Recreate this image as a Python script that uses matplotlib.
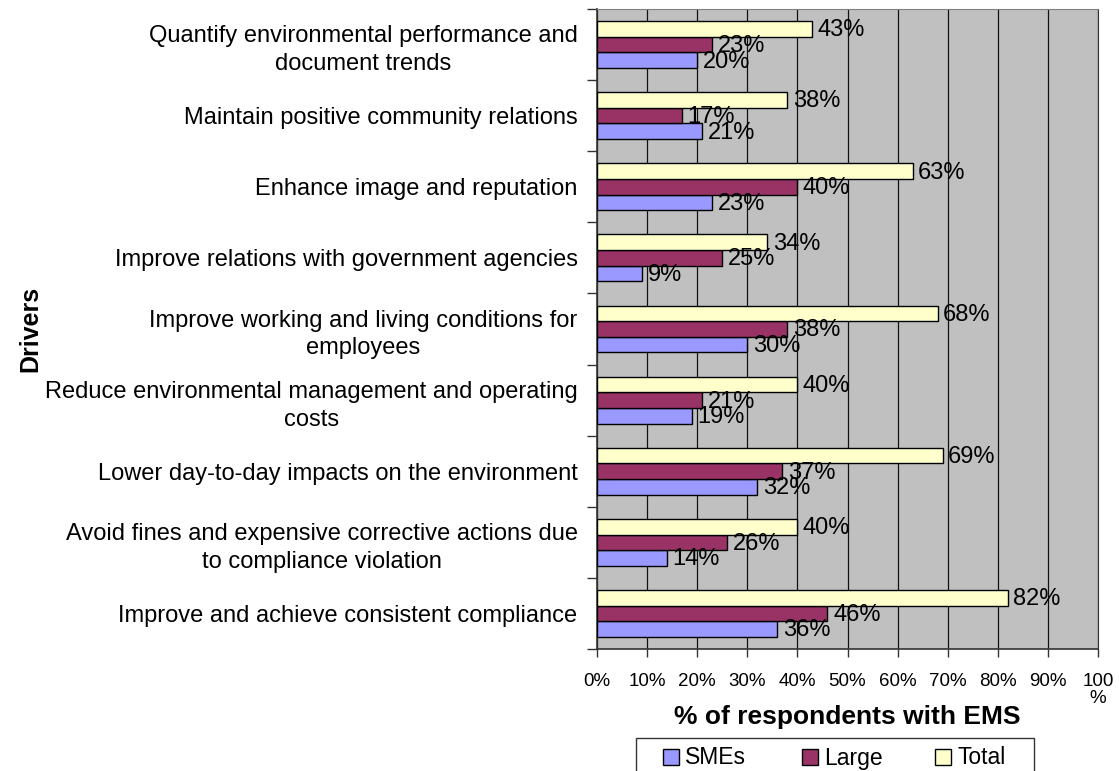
import matplotlib
matplotlib.use("Agg")
import matplotlib.pyplot as plt
import numpy as np
from matplotlib.patches import Rectangle

plt.rcParams["font.family"] = ["Liberation Sans", "DejaVu Sans"]

# drivers, listed top to bottom
drivers = [
    "Quantify environmental performance and\ndocument trends",
    "Maintain positive community relations",
    "Enhance image and reputation",
    "Improve relations with government agencies",
    "Improve working and living conditions for\nemployees",
    "Reduce environmental management and operating\ncosts",
    "Lower day-to-day impacts on the environment",
    "Avoid fines and expensive corrective actions due\nto compliance violation",
    "Improve and achieve consistent compliance",
]
smes = [20, 21, 23, 9, 30, 19, 32, 14, 36]
large = [23, 17, 40, 25, 38, 21, 37, 26, 46]
total = [43, 38, 63, 34, 68, 40, 69, 40, 82]

series_names = ["SMEs", "Large", "Total"]
series_colors = ["#9999FF", "#993366", "#FFFFCC"]
xticks = [0, 10, 20, 30, 40, 50, 60, 70, 80, 90, 100]
xtick_labels = ["0%", "10%", "20%", "30%", "40%", "50%", "60%", "70%", "80%", "90%", "100\n%"]

W, H = 1119, 771
fig = plt.figure(figsize=(W / 100, H / 100), dpi=100)
ax = fig.add_axes([597 / W, 1 - 649 / H, 501 / W, 640 / H])
ax.set_facecolor("#C0C0C0")

y = np.arange(len(drivers))
h = 0.22
# Total sits on top, SMEs at the bottom of each group (axis is inverted)
offsets = {"Total": -h, "Large": 0.0, "SMEs": h}
values = {"SMEs": smes, "Large": large, "Total": total}

for name, color in zip(series_names, series_colors):
    bars = ax.barh(y + offsets[name], values[name], height=h, color=color,
                   edgecolor="black", linewidth=1.0, zorder=3)
    for bar, v in zip(bars, values[name]):
        ax.annotate(f"{v}%", (bar.get_width(), bar.get_y() + bar.get_height() / 2),
                    xytext=(4, -1), textcoords="offset points",
                    ha="left", va="center", fontsize=17, zorder=4)

ax.set_xlim(0, 100)
ax.set_ylim(len(drivers) - 0.5, -0.5)

ax.set_xticks(xticks)
ax.set_xticklabels(xtick_labels, fontsize=13.5, linespacing=1.0)
ax.tick_params(axis="x", length=6, width=1, color="#333333", pad=11)
ax.grid(axis="x", color="#111111", linewidth=0.9, zorder=1)
ax.set_axisbelow(True)

ax.set_yticks(y)
ax.set_yticklabels(drivers, fontsize=17, multialignment="center", linespacing=1.35)
ax.tick_params(axis="y", which="major", length=0, pad=14)
ax.set_yticks(np.arange(-0.5, len(drivers)), minor=True)
ax.tick_params(axis="y", which="minor", length=7, width=1, color="#333333")

for side in ("left", "bottom"):
    ax.spines[side].set_color("#333333")
    ax.spines[side].set_linewidth(1.2)
ax.spines["top"].set_color("#808080")
ax.spines["right"].set_color("#333333")

ax.set_xlabel("% of respondents with EMS", fontsize=19, fontweight="bold", va="center")
ax.xaxis.set_label_coords(0.5, -68 / 640)
ax.set_ylabel("Drivers", fontsize=18, fontweight="bold", va="center")
ax.yaxis.set_label_coords(-567 / 501, 0.5)

# legend box along the bottom edge
def fx(px):
    return px / W

def fy(py):
    return 1 - py / H

fig.add_artist(Rectangle((fx(636), fy(790)), fx(1034) - fx(636), fy(738) - fy(790),
                         transform=fig.transFigure, facecolor="white",
                         edgecolor="#333333", linewidth=1.0))
for name, color, x0 in zip(series_names, series_colors, [663, 802, 935]):
    fig.add_artist(Rectangle((fx(x0), fy(765)), fx(16), 16 / H,
                             transform=fig.transFigure, facecolor=color,
                             edgecolor="black", linewidth=1.0))
    fig.text(fx(x0 + 22), fy(758), name, fontsize=16.5, ha="left", va="center")

fig.savefig("out.png", dpi=100, facecolor="white")
